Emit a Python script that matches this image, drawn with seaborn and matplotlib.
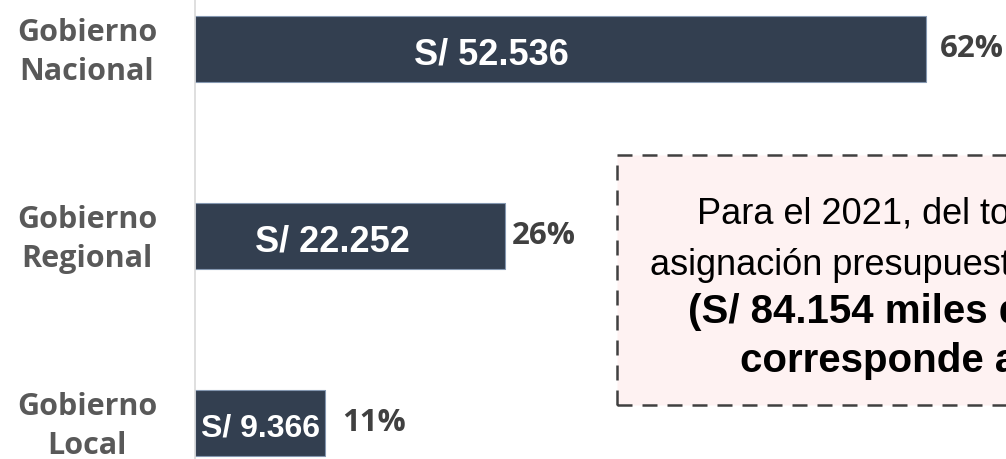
import pandas as pd
import seaborn as sns
import matplotlib.pyplot as plt
import matplotlib.transforms as mtransforms
from matplotlib.patches import Rectangle

# datos del gráfico
categorias = ['Gobierno\nNacional', 'Gobierno\nRegional', 'Gobierno\nLocal']
montos = [52.536, 22.252, 9.366]
etiquetas_monto = ['S/ 52.536', 'S/ 22.252', 'S/ 9.366']
etiquetas_pct = ['62%', '26%', '11%']
lineas_recuadro = ['Para el 2021, del total de la',
                   'asignación presupuestal del sector',
                   '(S/ 84.154 miles de millones)',
                   'corresponde al Gobierno Nacional']

color_barra = '#333F50'

sns.set_style('white')
plt.rcParams['font.family'] = ['Liberation Sans', 'DejaVu Sans']

W, H = 1006, 459
fig = plt.figure(figsize=(W / 100, H / 100), dpi=100)

# recuadro con nota (detrás de todo)
rect = Rectangle((617 / W, 1 - 405 / H), 420 / W, 250 / H, transform=fig.transFigure,
                 facecolor='#FEF2F2', edgecolor='#404040', linewidth=1.8,
                 linestyle=(0, (6, 4)), zorder=0)
fig.add_artist(rect)

ax = fig.add_axes([195 / W, 0, 1 - 195 / W, 1])
ax.set_facecolor('none')
ax.set_zorder(1)

df = pd.DataFrame({'nivel': categorias, 'monto': montos})
sns.barplot(data=df, y='nivel', x='monto', orient='h', color=color_barra,
            saturation=1, width=0.353, edgecolor='#8497B0', linewidth=0.8, ax=ax)

ax.set_xlim(0, 811 / 13.91)
ax.set_ylim(2.193, -0.262)
ax.set_xlabel('')
ax.set_ylabel('')
ax.set_xticks([])

# etiquetas de categoría
ax.tick_params(axis='y', length=0, pad=77.8)
subir = mtransforms.ScaledTranslation(0, 0.04, fig.dpi_scale_trans)
for lbl in ax.get_yticklabels():
    lbl.set_horizontalalignment('center')
    lbl.set_fontfamily('Open Sans')
    lbl.set_fontweight('bold')
    lbl.set_fontsize(22)
    lbl.set_color('#595959')
    lbl.set_linespacing(1.36)
    lbl.set_transform(lbl.get_transform() + subir)

for s in ['top', 'right', 'bottom']:
    ax.spines[s].set_visible(False)
ax.spines['left'].set_color('#D9D9D9')
ax.spines['left'].set_linewidth(1.2)

# montos dentro de las barras
frac_pos = [0.405, 0.445, 0.5]
tam_monto = [26, 26, 23]
for i, (m, txt) in enumerate(zip(montos, etiquetas_monto)):
    ax.text(m * frac_pos[i], i + 0.03, txt, ha='center', va='center',
            color='white', fontweight='bold', fontsize=tam_monto[i])

# porcentajes al final de cada barra
desplaz = [10, 5, 12]
for i, (m, txt) in enumerate(zip(montos, etiquetas_pct)):
    ax.annotate(txt, xy=(m, i), xytext=(desplaz[i], 0), textcoords='offset points',
                ha='left', va='center', fontfamily='Open Sans', fontweight='bold',
                fontsize=22.5, color='#404040')

x_lineas = [697, 650, 688, 740]
y_lineas = [223, 275, 323, 372]
for j, txt in enumerate(lineas_recuadro):
    fig.text(x_lineas[j] / W, 1 - y_lineas[j] / H, txt, ha='left', va='baseline',
             fontsize=26 if j < 2 else 29, fontweight='normal' if j < 2 else 'bold',
             color='black', zorder=2)

fig.savefig('out.png', dpi=100)
